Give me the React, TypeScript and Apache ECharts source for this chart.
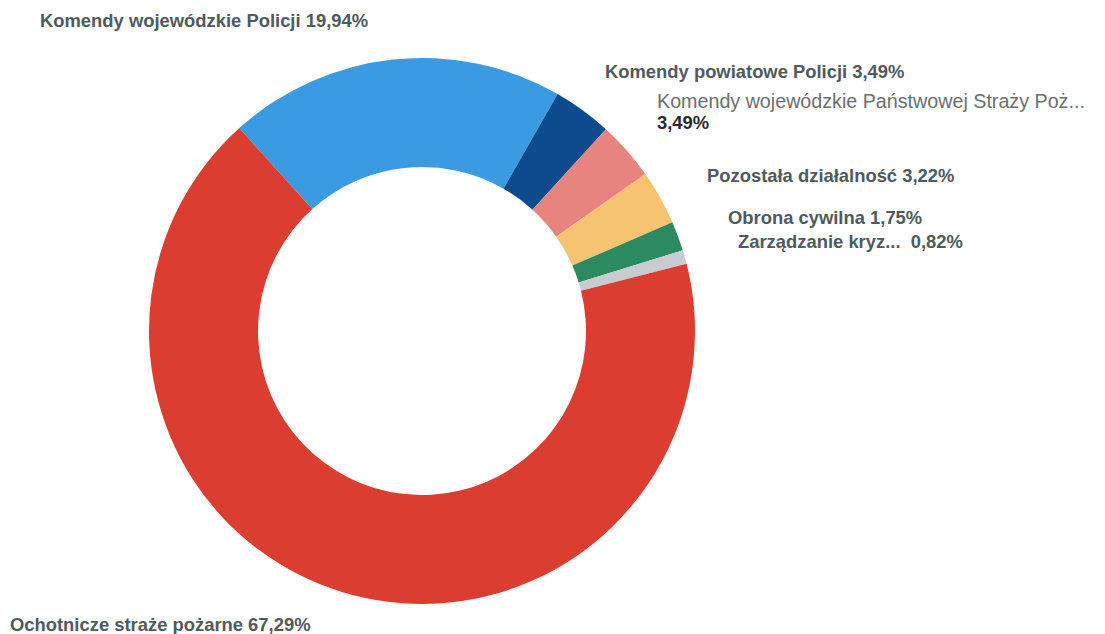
import React, { useEffect, useRef } from "react";
import * as echarts from "echarts";

const categories = [
  "Komendy wojewódzkie Policji",
  "Komendy powiatowe Policji",
  "Komendy wojewódzkie Państwowej Straży Pożarnej",
  "Pozostała działalność",
  "Obrona cywilna",
  "Zarządzanie kryzysowe",
  "Ochotnicze straże pożarne",
];
const values = [19.94, 3.49, 3.49, 3.22, 1.75, 0.82, 67.29];
const labelNames = [
  "Komendy wojewódzkie Policji",
  "Komendy powiatowe Policji",
  "Komendy wojewódzkie Państwowej Straży Poż...",
  "Pozostała działalność",
  "Obrona cywilna",
  "Zarządzanie kryz... ",
  "Ochotnicze straże pożarne",
];
const colors = ["#3a9be2", "#0d4b8e", "#e8847f", "#f6c371", "#2b8a60", "#c8ccd0", "#dc3d31"];

const fmt = (v: number) => v.toFixed(2).replace(".", ",") + "%";

export default function App() {
  const ref = useRef<HTMLDivElement>(null);
  useEffect(() => {
    if (!ref.current) return;
    const chart = echarts.init(ref.current, null, { renderer: "svg" });
    const dark = "#505a5c";
    const font = "'Liberation Sans', Arial, sans-serif";
    const labelPos: [number, number][] = [
      [40, 20],
      [605, 71],
      [657, 101],
      [707, 175],
      [728, 217],
      [738, 241],
      [10, 624],
    ];
    const graphics: any[] = [];
    categories.forEach((c, i) => {
      const [x, y] = labelPos[i];
      if (i === 2) {
        graphics.push({
          type: "text",
          x,
          y,
          style: {
            text: labelNames[i],
            fill: "#6b6f70",
            font: `normal 19.7px ${font}`,
            textVerticalAlign: "middle",
          },
        });
        graphics.push({
          type: "text",
          x,
          y: y + 21,
          style: {
            text: fmt(values[i]),
            fill: "#2a2a2a",
            font: `bold 18.4px ${font}`,
            textVerticalAlign: "middle",
          },
        });
      } else {
        graphics.push({
          type: "text",
          x,
          y,
          style: {
            text: labelNames[i] + " " + fmt(values[i]),
            fill: dark,
            font: `bold 18.4px ${font}`,
            textVerticalAlign: "middle",
          },
        });
      }
    });
    chart.setOption({
      animation: false,
      color: colors,
      series: [
        {
          type: "pie",
          center: [422, 331],
          radius: [164, 273],
          startAngle: 132,
          clockwise: true,
          avoidLabelOverlap: false,
          label: { show: false },
          labelLine: { show: false },
          itemStyle: { borderWidth: 0 },
          data: categories.map((name, i) => ({ name, value: values[i] })),
        },
      ],
      graphic: graphics,
    });
    return () => chart.dispose();
  }, []);
  return (
    <div
      ref={ref}
      style={{ position: "fixed", left: 0, top: 0, width: 1105, height: 634, background: "#fff" }}
    />
  );
}
